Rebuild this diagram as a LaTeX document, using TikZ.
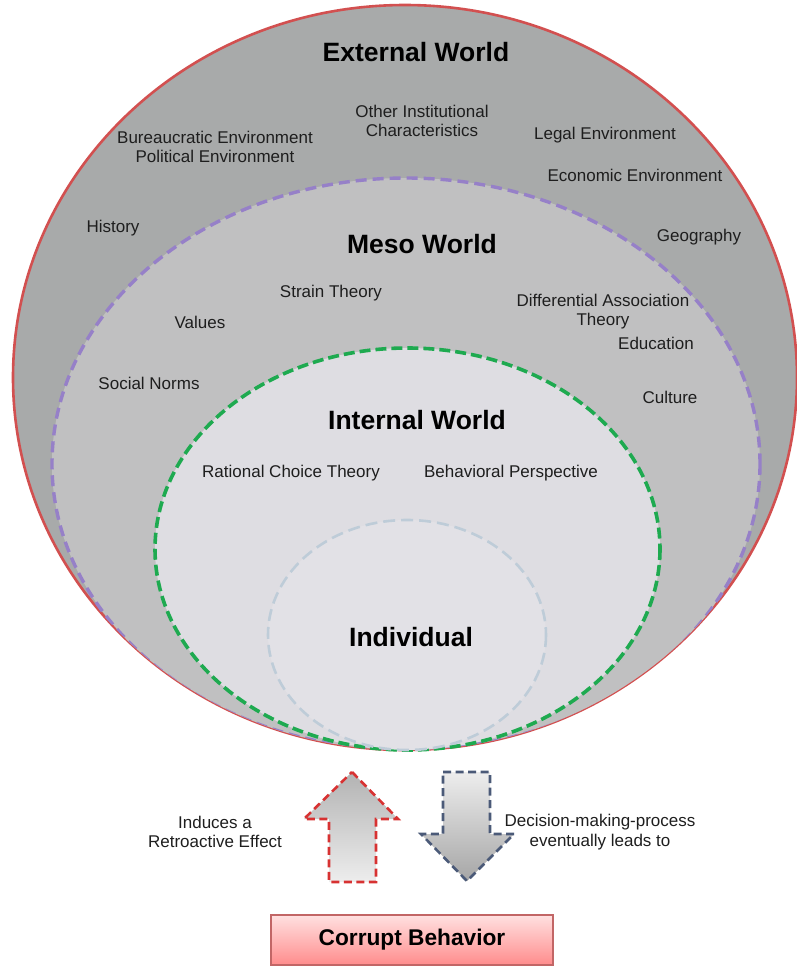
\documentclass[tikz,border=0pt]{standalone}
\usepackage{fontspec}
\setmainfont{Liberation Sans}
\usetikzlibrary{positioning}

\definecolor{extfill}{RGB}{168,170,170}
\definecolor{mesofill}{RGB}{192,192,193}
\definecolor{intfill}{RGB}{222,221,226}
\definecolor{indfill}{RGB}{226,225,230}
\definecolor{extline}{RGB}{210,80,80}
\definecolor{mesoline}{RGB}{150,128,200}
\definecolor{intline}{RGB}{30,170,80}
\definecolor{indline}{RGB}{190,204,216}
\definecolor{upline}{RGB}{215,50,50}
\definecolor{downline}{RGB}{75,90,120}
\definecolor{txt}{RGB}{30,30,30}

\begin{document}
\begin{tikzpicture}[x=1pt,y=-1pt,
  lbl/.style={align=center,text=txt,inner sep=0pt,font=\fontsize{17}{19.5}\selectfont},
  world/.style={text=black,inner sep=0pt,font=\fontsize{26.5}{30}\selectfont\bfseries},
  uparr/.style={draw=upline,line width=2.6pt,dash pattern=on 8pt off 4.5pt,top color=black!30,bottom color=black!7},
  downarr/.style={draw=downline,line width=2.6pt,dash pattern=on 8pt off 4.5pt,top color=black!7,bottom color=black!35},
  cbox/.style={draw=red!60!black!60,line width=1.2pt,top color=red!12,bottom color=red!45,minimum width=282pt,minimum height=50pt,inner sep=0pt,font=\fontsize{22.7}{26}\selectfont\bfseries}]
      \useasboundingbox (0,0) rectangle (796,967);

      \fill[extfill] (405,377.5) ellipse [x radius=392,y radius=372.5];
      \draw[extline,line width=2.6pt] (405,377.5) ellipse [x radius=392,y radius=372.5];
      \begin{scope}
	\clip (405,377.5) ellipse [x radius=392,y radius=372.5];
	\fill[mesofill] (406,464) ellipse [x radius=354,y radius=286];
	\draw[mesoline,line width=3.4pt,dash pattern=on 11pt off 6pt] (406,464) ellipse [x radius=354,y radius=286];
      \end{scope}
      \fill[intfill] (407.5,549) ellipse [x radius=252.5,y radius=201];
      \draw[intline,line width=3.6pt,dash pattern=on 11pt off 5pt] (407.5,549) ellipse [x radius=252.5,y radius=201];
      \fill[indfill] (407,635) ellipse [x radius=139,y radius=115];
      \draw[indline,line width=2.6pt,dash pattern=on 12pt off 6pt] (407,635) ellipse [x radius=139,y radius=115];

      \node [world] (EW) at (416,52) {External World};
      \node [lbl] (E1) at (422,121) {Other Institutional\\Characteristics};
      \node [lbl] (E2) at (215,147) {Bureaucratic Environment\\Political Environment};
      \node [lbl] (E3) at (113,228) {History};
      \node [lbl] (E4) at (605,135) {Legal Environment};
      \node [lbl] (E5) at (635,175) {Economic Environment};
      \node [lbl] (E6) at (699,237) {Geography};

      \node [world] (MW) at (422,244) {Meso World};
      \node [lbl] (M1) at (331,293) {Strain Theory};
      \node [lbl] (M2) at (200,322) {Values};
      \node [lbl] (M3) at (603,311.5) {Differential Association\\Theory};
      \node [lbl] (M4) at (656,343) {Education};
      \node [lbl] (M5) at (670,397) {Culture};
      \node [lbl] (M6) at (149,383) {Social Norms};

      \node [world] (IW) at (417,420) {Internal World};
      \node [lbl] (I1) at (291,473) {Rational Choice Theory};
      \node [lbl] (I2) at (511,473) {Behavioral Perspective};

      \node [world] (ID) at (411,637) {Individual};

      \path[uparr] (352,772) -- (398,819) -- (376,819) -- (376,882) -- (329,882) -- (329,819) -- (304,819) -- cycle;
      \path[downarr] (443,772) -- (490,772) -- (490,834) -- (514,834) -- (467,881) -- (421,834) -- (443,834) -- cycle;

      \node [lbl] (R1) at (215,832) {Induces a\\Retroactive Effect};
      \node [lbl] (R2) at (600,832) {Decision-making-process\\eventually leads to};

      \node [cbox] (CB) at (412,940) {Corrupt Behavior};
\end{tikzpicture}
\end{document}
